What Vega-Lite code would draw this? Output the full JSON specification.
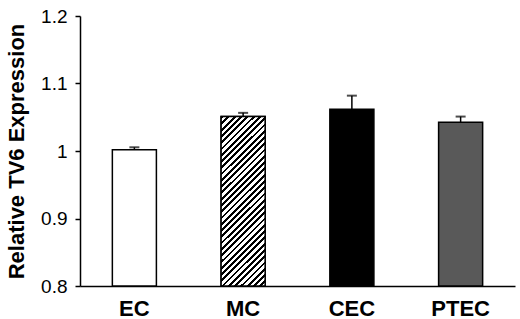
{
  "$schema": "https://vega.github.io/schema/vega-lite/v6.json",
  "width": 435,
  "height": 270,
  "autosize": "none",
  "padding": {"left": 80, "top": 16, "right": 5, "bottom": 33},
  "background": "white",
  "config": {"view": {"stroke": null}, "font": "Liberation Sans"},
  "data": {
    "values": [
      {"cell": "EC", "value": 1.002, "upper": 1.0055},
      {"cell": "MC", "value": 1.051, "upper": 1.0565},
      {"cell": "CEC", "value": 1.062, "upper": 1.082},
      {"cell": "PTEC", "value": 1.0425, "upper": 1.051}
    ]
  },
  "encoding": {
    "x": {
      "field": "cell",
      "type": "nominal",
      "sort": ["EC", "MC", "CEC", "PTEC"],
      "scale": {"paddingInner": 0.595, "paddingOuter": 0.2975},
      "axis": {
        "title": null,
        "labelAngle": 0,
        "ticks": false,
        "labelPadding": 12,
        "labelFont": "Liberation Sans",
        "labelFontWeight": "bold",
        "labelFontSize": 22,
        "labelColor": "black",
        "domainColor": "black",
        "domainWidth": 1.5
      }
    }
  },
  "layer": [
    {
      "mark": {"type": "bar", "stroke": "black", "strokeWidth": 1.5},
      "encoding": {
        "y": {
          "field": "value",
          "type": "quantitative",
          "scale": {"domain": [0.8, 1.2], "zero": false, "nice": false},
          "axis": {
            "title": "Relative TV6 Expression",
            "values": [0.8, 0.9, 1, 1.1, 1.2],
            "format": "~g",
            "grid": false,
            "tickSize": 5,
            "tickColor": "black",
            "tickWidth": 1.5,
            "domainColor": "black",
            "domainWidth": 1.5,
            "labelPadding": 8,
            "labelFont": "Liberation Sans",
            "labelFontSize": 19,
            "labelColor": "black",
            "titleFont": "Liberation Sans",
            "titleFontSize": 22,
            "titleFontWeight": "bold",
            "titleColor": "black",
            "titlePadding": 12
          }
        },
        "y2": {"datum": 0.8},
        "fill": {
          "field": "cell",
          "type": "nominal",
          "scale": {"domain": ["EC", "MC", "CEC", "PTEC"], "range": ["#ffffff", "#ffffff", "#000000", "#595959"]},
          "legend": null
        }
      }
    },
    {
      "transform": [{"filter": "datum.cell === 'MC'"}],
      "mark": {
        "type": "bar",
        "stroke": "black",
        "strokeWidth": 1.5,
        "fill": {
          "gradient": "linear",
          "x1": 0, "y1": 0, "x2": 0.3055, "y2": 1.18,
          "stops": [
            {"offset": 0.0, "color": "black"}, {"offset": 0.0132, "color": "black"}, {"offset": 0.0132, "color": "white"}, {"offset": 0.0294, "color": "white"},
            {"offset": 0.0294, "color": "black"}, {"offset": 0.0426, "color": "black"}, {"offset": 0.0426, "color": "white"}, {"offset": 0.0588, "color": "white"},
            {"offset": 0.0588, "color": "black"}, {"offset": 0.0720, "color": "black"}, {"offset": 0.0720, "color": "white"}, {"offset": 0.0882, "color": "white"},
            {"offset": 0.0882, "color": "black"}, {"offset": 0.1014, "color": "black"}, {"offset": 0.1014, "color": "white"}, {"offset": 0.1176, "color": "white"},
            {"offset": 0.1176, "color": "black"}, {"offset": 0.1308, "color": "black"}, {"offset": 0.1308, "color": "white"}, {"offset": 0.1471, "color": "white"},
            {"offset": 0.1471, "color": "black"}, {"offset": 0.1603, "color": "black"}, {"offset": 0.1603, "color": "white"}, {"offset": 0.1765, "color": "white"},
            {"offset": 0.1765, "color": "black"}, {"offset": 0.1897, "color": "black"}, {"offset": 0.1897, "color": "white"}, {"offset": 0.2059, "color": "white"},
            {"offset": 0.2059, "color": "black"}, {"offset": 0.2191, "color": "black"}, {"offset": 0.2191, "color": "white"}, {"offset": 0.2353, "color": "white"},
            {"offset": 0.2353, "color": "black"}, {"offset": 0.2485, "color": "black"}, {"offset": 0.2485, "color": "white"}, {"offset": 0.2647, "color": "white"},
            {"offset": 0.2647, "color": "black"}, {"offset": 0.2779, "color": "black"}, {"offset": 0.2779, "color": "white"}, {"offset": 0.2941, "color": "white"},
            {"offset": 0.2941, "color": "black"}, {"offset": 0.3073, "color": "black"}, {"offset": 0.3073, "color": "white"}, {"offset": 0.3235, "color": "white"},
            {"offset": 0.3235, "color": "black"}, {"offset": 0.3367, "color": "black"}, {"offset": 0.3367, "color": "white"}, {"offset": 0.3529, "color": "white"},
            {"offset": 0.3529, "color": "black"}, {"offset": 0.3661, "color": "black"}, {"offset": 0.3661, "color": "white"}, {"offset": 0.3824, "color": "white"},
            {"offset": 0.3824, "color": "black"}, {"offset": 0.3956, "color": "black"}, {"offset": 0.3956, "color": "white"}, {"offset": 0.4118, "color": "white"},
            {"offset": 0.4118, "color": "black"}, {"offset": 0.4250, "color": "black"}, {"offset": 0.4250, "color": "white"}, {"offset": 0.4412, "color": "white"},
            {"offset": 0.4412, "color": "black"}, {"offset": 0.4544, "color": "black"}, {"offset": 0.4544, "color": "white"}, {"offset": 0.4706, "color": "white"},
            {"offset": 0.4706, "color": "black"}, {"offset": 0.4838, "color": "black"}, {"offset": 0.4838, "color": "white"}, {"offset": 0.5000, "color": "white"},
            {"offset": 0.5000, "color": "black"}, {"offset": 0.5132, "color": "black"}, {"offset": 0.5132, "color": "white"}, {"offset": 0.5294, "color": "white"},
            {"offset": 0.5294, "color": "black"}, {"offset": 0.5426, "color": "black"}, {"offset": 0.5426, "color": "white"}, {"offset": 0.5588, "color": "white"},
            {"offset": 0.5588, "color": "black"}, {"offset": 0.5720, "color": "black"}, {"offset": 0.5720, "color": "white"}, {"offset": 0.5882, "color": "white"},
            {"offset": 0.5882, "color": "black"}, {"offset": 0.6014, "color": "black"}, {"offset": 0.6014, "color": "white"}, {"offset": 0.6176, "color": "white"},
            {"offset": 0.6176, "color": "black"}, {"offset": 0.6308, "color": "black"}, {"offset": 0.6308, "color": "white"}, {"offset": 0.6471, "color": "white"},
            {"offset": 0.6471, "color": "black"}, {"offset": 0.6603, "color": "black"}, {"offset": 0.6603, "color": "white"}, {"offset": 0.6765, "color": "white"},
            {"offset": 0.6765, "color": "black"}, {"offset": 0.6897, "color": "black"}, {"offset": 0.6897, "color": "white"}, {"offset": 0.7059, "color": "white"},
            {"offset": 0.7059, "color": "black"}, {"offset": 0.7191, "color": "black"}, {"offset": 0.7191, "color": "white"}, {"offset": 0.7353, "color": "white"},
            {"offset": 0.7353, "color": "black"}, {"offset": 0.7485, "color": "black"}, {"offset": 0.7485, "color": "white"}, {"offset": 0.7647, "color": "white"},
            {"offset": 0.7647, "color": "black"}, {"offset": 0.7779, "color": "black"}, {"offset": 0.7779, "color": "white"}, {"offset": 0.7941, "color": "white"},
            {"offset": 0.7941, "color": "black"}, {"offset": 0.8073, "color": "black"}, {"offset": 0.8073, "color": "white"}, {"offset": 0.8235, "color": "white"},
            {"offset": 0.8235, "color": "black"}, {"offset": 0.8367, "color": "black"}, {"offset": 0.8367, "color": "white"}, {"offset": 0.8529, "color": "white"},
            {"offset": 0.8529, "color": "black"}, {"offset": 0.8661, "color": "black"}, {"offset": 0.8661, "color": "white"}, {"offset": 0.8824, "color": "white"},
            {"offset": 0.8824, "color": "black"}, {"offset": 0.8956, "color": "black"}, {"offset": 0.8956, "color": "white"}, {"offset": 0.9118, "color": "white"},
            {"offset": 0.9118, "color": "black"}, {"offset": 0.9250, "color": "black"}, {"offset": 0.9250, "color": "white"}, {"offset": 0.9412, "color": "white"},
            {"offset": 0.9412, "color": "black"}, {"offset": 0.9544, "color": "black"}, {"offset": 0.9544, "color": "white"}, {"offset": 0.9706, "color": "white"},
            {"offset": 0.9706, "color": "black"}, {"offset": 0.9838, "color": "black"}, {"offset": 0.9838, "color": "white"}, {"offset": 1.0, "color": "white"}
          ]
        }
      },
      "encoding": {
        "y": {"field": "value", "type": "quantitative"},
        "y2": {"datum": 0.8}
      }
    },
    {
      "mark": {"type": "rule", "color": "black", "strokeWidth": 1.5},
      "encoding": {
        "y": {"field": "value", "type": "quantitative"},
        "y2": {"field": "upper"}
      }
    },
    {
      "mark": {"type": "tick", "color": "black", "size": 10, "thickness": 2, "orient": "horizontal"},
      "encoding": {
        "y": {"field": "upper", "type": "quantitative"}
      }
    }
  ]
}
